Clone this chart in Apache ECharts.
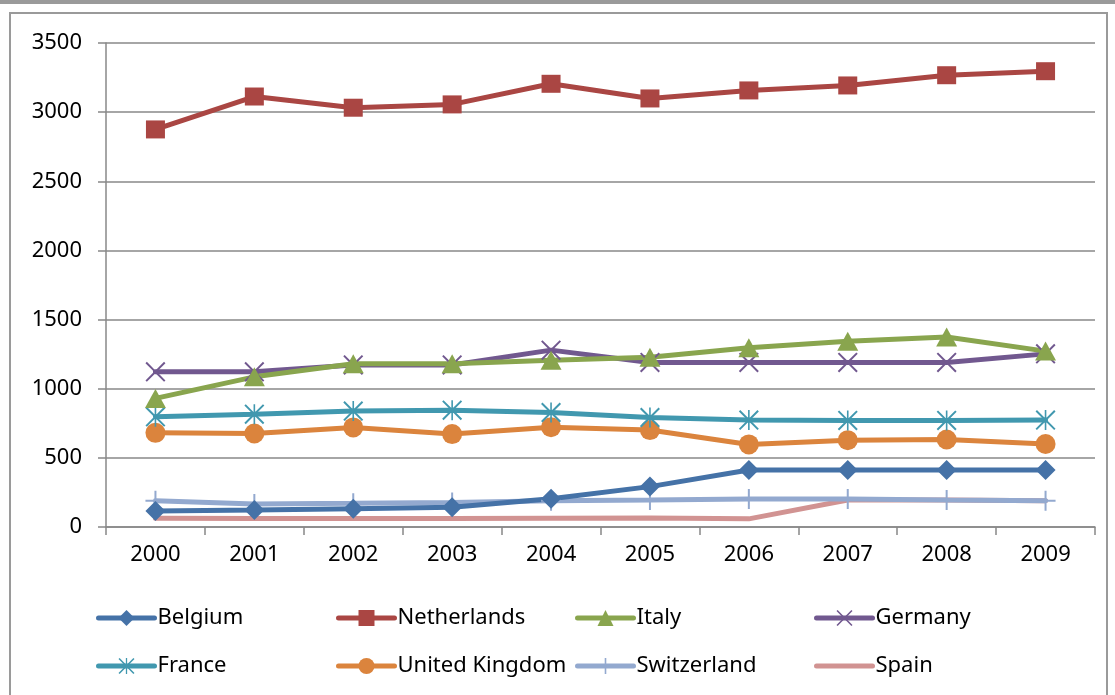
<!DOCTYPE html>
<html>
<head>
<meta charset="utf-8">
<script src="https://cdn.jsdelivr.net/npm/echarts@6/dist/echarts.min.js"></script>
<style>
  html, body { margin: 0; padding: 0; background: #fff; }
  #chart { width: 1115px; height: 695px; }
</style>
</head>
<body>
<div id="chart"></div>
<script>
// data
const years = ['2000', '2001', '2002', '2003', '2004', '2005', '2006', '2007', '2008', '2009'];
const belgium     = [116, 123, 132, 142, 205, 292, 412, 412, 412, 412];
const netherlands = [2875, 3113, 3032, 3056, 3205, 3099, 3157, 3193, 3267, 3296];
const italy       = [930, 1086, 1180, 1180, 1206, 1228, 1296, 1344, 1374, 1272];
const germany     = [1122, 1122, 1172, 1172, 1279, 1190, 1190, 1190, 1190, 1252];
const france      = [797, 816, 838, 845, 828, 792, 773, 771, 771, 773];
const uk          = [681, 676, 720, 672, 722, 701, 597, 628, 633, 600];
const switzerland = [190, 166, 171, 178, 190, 195, 202, 202, 195, 190];
const spain       = [63, 61, 61, 62, 63, 65, 59, 195, 195, 189];

const legendRows = [
  ['Belgium', 'Netherlands', 'Italy', 'Germany'],
  ['France', 'United Kingdom', 'Switzerland', 'Spain']
];

const FONT = '"Noto Sans", "Open Sans", sans-serif';

// marker shapes (excel style)
const xMark = 'path://M0,1.4 L1.4,0 L10,8.6 L18.6,0 L20,1.4 L11.4,10 L20,18.6 L18.6,20 L10,11.4 L1.4,20 L0,18.6 L8.6,10 Z';
const starMark = 'path://M0,1.4 L1.4,0 L20,18.6 L18.6,20 Z M18.6,0 L20,1.4 L1.4,20 L0,18.6 Z M9.2,0 L10.8,0 L10.8,20 L9.2,20 Z';
const plusMark = 'path://M9,0 L11,0 L11,9 L20,9 L20,11 L11,11 L11,20 L9,20 L9,11 L0,11 L0,9 L9,9 Z';
// spain has no marker: a thin bar inside a square box so it hides in the legend line
const flatMark = 'path://M0,0 L0.01,0 Z M0,9 L20,9 L20,11 L0,11 Z M20,20 L19.99,20 Z';

const chart = echarts.init(document.getElementById('chart'));

const mk = (name, data, color, symbol, size, show) => ({
  name: name,
  type: 'line',
  data: data,
  symbol: symbol,
  symbolSize: size,
  showSymbol: show,
  lineStyle: { width: 5, color: color, cap: 'round' },
  itemStyle: { color: color },
  emphasis: { disabled: true },
  animation: false
});

const series = [
  mk('Spain', spain, '#D19392', flatMark, [20, 20], false),
  mk('Switzerland', switzerland, '#93A9CF', plusMark, [20, 20], true),
  mk('Belgium', belgium, '#4572A7', 'diamond', [20, 20], true),
  mk('United Kingdom', uk, '#DB843D', 'circle', 20, true),
  mk('France', france, '#4198AF', starMark, [20, 20], true),
  mk('Germany', germany, '#71588F', xMark, [20, 20], true),
  mk('Italy', italy, '#89A54E', 'triangle', [21, 19], true),
  mk('Netherlands', netherlands, '#AA4643', 'rect', [19, 18], true)
];

// one legend per entry so the columns line up like the excel chart
const colLeft = [96, 336, 575, 814];
const rowTop = [607, 655];
const legends = [];
legendRows.forEach((row, r) => {
  row.forEach((name, c) => {
    legends.push({
      left: colLeft[c],
      top: rowTop[r],
      itemWidth: 56,
      itemHeight: 20,
      itemGap: 0,
      padding: 0,
      selectedMode: false,
      lineStyle: { width: 5, cap: 'round' },
      textStyle: { fontFamily: FONT, fontSize: 22, color: '#000', padding: [0, 0, 0, -2] },
      data: [name]
    });
  });
});

const option = {
  backgroundColor: '#fff',
  animation: false,
  grid: { left: 106, right: 20, top: 43, bottom: 168 },
  graphic: [
    { type: 'rect', shape: { x: 0, y: 0, width: 1115, height: 4 }, style: { fill: '#9a9a9a' }, silent: true },
    { type: 'rect', shape: { x: 10, y: 13, width: 1097, height: 700 }, style: { fill: 'none', stroke: '#9a9a9a', lineWidth: 2 }, silent: true }
  ],
  legend: legends,
  xAxis: {
    type: 'category',
    data: years,
    boundaryGap: true,
    axisLine: { lineStyle: { color: '#888', width: 1.5 } },
    axisTick: { show: true, length: 8, alignWithLabel: false, lineStyle: { color: '#888', width: 1.5 } },
    axisLabel: { fontFamily: FONT, fontSize: 22, color: '#000', margin: 17 }
  },
  yAxis: {
    type: 'value',
    min: 0,
    max: 3500,
    interval: 500,
    axisLine: { show: true, lineStyle: { color: '#888', width: 1.5 } },
    axisTick: { show: true, length: 8, lineStyle: { color: '#888', width: 1.5 } },
    axisLabel: { fontFamily: FONT, fontSize: 22, color: '#000', margin: 24, formatter: (v) => String(v) },
    splitLine: { lineStyle: { color: '#888', width: 1.5 } }
  },
  series: series
};

chart.setOption(option);
window.addEventListener('resize', function () {
  chart && chart.resize();
});
</script>
</body>
</html>
